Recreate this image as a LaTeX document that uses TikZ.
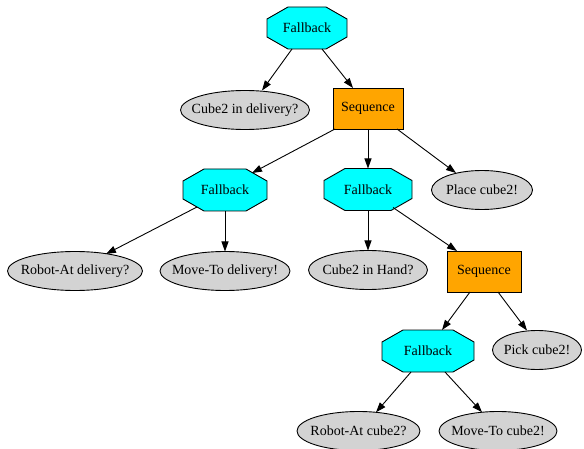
\documentclass[tikz,border=0pt]{standalone}
\usepackage{fontspec}
\setmainfont{Liberation Serif}
\usetikzlibrary{shapes.geometric,arrows.meta,calc}
\definecolor{fbcyan}{RGB}{0,255,255}
\definecolor{seqorange}{RGB}{255,165,0}
\definecolor{leafgray}{RGB}{211,211,211}
\tikzset{
  every node/.style={font=\fontsize{14}{16}\selectfont},
  fbshape/.style={draw=black, fill=fbcyan, line width=0.9pt, line join=miter},
  lbl/.style={inner sep=0pt, draw=none},
  seqbox/.style={draw=black, fill=seqorange, line width=0.9pt, inner sep=0pt, minimum width=70, minimum height=41},
  leaf/.style={ellipse, draw=black, fill=leafgray, line width=0.9pt, inner sep=0pt, minimum height=39},
  edge/.style={draw=black, line width=0.9pt, -{Triangle[length=10pt,width=7pt]}}
}
\newcommand{\fbnode}[4]{%
  \filldraw[fbshape] (#2-#4+21,#3-21) -- (#2+#4-21,#3-21) -- (#2+#4,#3-9) -- (#2+#4,#3+9)
    -- (#2+#4-21,#3+21) -- (#2-#4+21,#3+21) -- (#2-#4,#3+9) -- (#2-#4,#3-9) -- cycle;
  \node[lbl, minimum width=2*#4, minimum height=42] (#1) at (#2,#3) {Fallback};
}
\begin{document}
\begin{tikzpicture}[x=1pt,y=-1pt]
\useasboundingbox (0,0) rectangle (584,449);
% nodes
\fbnode{fb1}{307}{28}{40}
\node[leaf, minimum width=129] (c1) at (245,110) {\makebox[0pt]{Cube2 in delivery?}};
\node[seqbox] (seq1) at (368,108.5) {Sequence};
\fbnode{fb2}{225}{190}{42}
\fbnode{fb3}{368}{189.5}{44}
\node[leaf, minimum width=101] (pl) at (482,190) {\makebox[0pt]{Place cube2!}};
\node[leaf, minimum width=135] (ra1) at (75,271) {\makebox[0pt]{Robot-At delivery?}};
\node[leaf, minimum width=130] (mt1) at (225,271) {\makebox[0pt]{Move-To delivery!}};
\node[leaf, minimum width=119] (ch) at (368,270) {\makebox[0pt]{Cube2 in Hand?}};
\node[seqbox, minimum width=74] (seq2) at (484,271.5) {Sequence};
\fbnode{fb4}{428}{351}{46}
\node[leaf, minimum width=89] (pk) at (537,350) {\makebox[0pt]{Pick cube2!}};
\node[leaf, minimum width=123] (ra2) at (358.5,431) {\makebox[0pt]{Robot-At cube2?}};
\node[leaf, minimum width=118] (mt2) at (498,431) {\makebox[0pt]{Move-To cube2!}};
% edges
\draw[edge] ($(fb1)+(-15,21)$) -- ($(c1)+(17,-19.5)$);
\draw[edge] ($(fb1)+(15,21)$) -- ($(seq1)+(-15,-20.5)$);
\draw[edge] ($(seq1)+(-33,20.5)$) -- ($(fb2)+(27,-17)$);
\draw[edge] ($(seq1)+(0,20.5)$) -- ($(fb3)+(0,-21)$);
\draw[edge] ($(seq1)+(29,20.5)$) -- ($(pl)+(-26,-17)$);
\draw[edge] ($(fb2)+(-28,17)$) -- ($(ra1)+(31,-17)$);
\draw[edge] ($(fb2)+(0,21)$) -- ($(mt1)+(0,-19.5)$);
\draw[edge] ($(fb3)+(0,21)$) -- ($(ch)+(0,-19.5)$);
\draw[edge] ($(fb3)+(25,18)$) -- ($(seq2)+(-27,-20.5)$);
\draw[edge] ($(seq2)+(-14,20.5)$) -- ($(fb4)+(14,-21)$);
\draw[edge] ($(seq2)+(14,20.5)$) -- ($(pk)+(-10,-19.5)$);
\draw[edge] ($(fb4)+(-17,21)$) -- ($(ra2)+(17.5,-18.7)$);
\draw[edge] ($(fb4)+(17,21)$) -- ($(mt2)+(-16,-18.8)$);
\end{tikzpicture}
\end{document}
